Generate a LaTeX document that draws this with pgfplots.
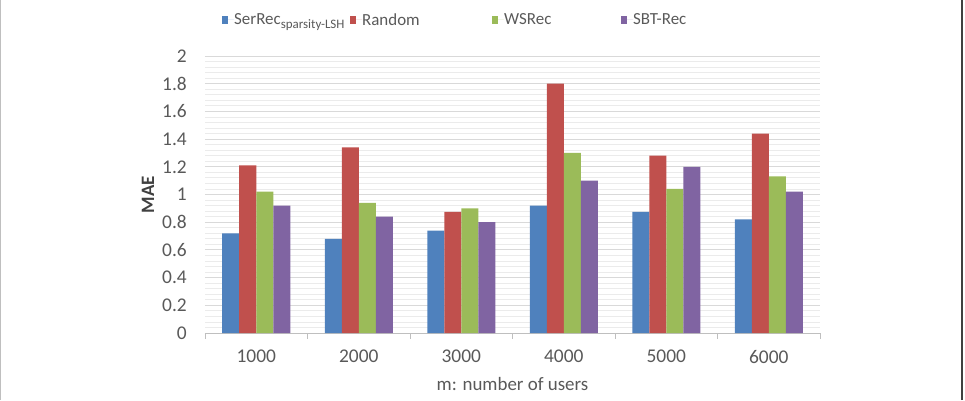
\documentclass[border=0pt]{standalone}
\usepackage{fontspec}
\setmainfont{Carlito}
\usepackage{pgfplots}
\pgfplotsset{compat=1.18}

\definecolor{cSer}{HTML}{4F81BD}
\definecolor{cRand}{HTML}{C0504D}
\definecolor{cWS}{HTML}{9BBB59}
\definecolor{cSBT}{HTML}{8064A2}
\definecolor{txt}{HTML}{595959}
\definecolor{txtdark}{HTML}{404040}
\definecolor{axisgray}{HTML}{BFBFBF}
\definecolor{gridmajor}{HTML}{D9D9D9}
\definecolor{gridminor}{HTML}{EBEBEB}

\begin{document}
\begin{tikzpicture}[x=1bp,y=1bp]
\path[use as bounding box] (-205,-67) rectangle (760,333);
% frame edges
\draw[color=axisgray, line width=1bp] (-204.5,-67) -- (-204.5,333);
\draw[color=txtdark, line width=1.6bp] (757,-67) -- (757,333);
\begin{axis}[
  at={(0,0)}, anchor=south west,
  scale only axis, width=615bp, height=277bp,
  ybar=0pt, bar width=17bp,
  xmin=-0.5, xmax=5.5, ymin=0, ymax=2,
  enlargelimits=false, clip=false,
  xtick={0,1,2,3,4,5},
  xticklabels={1000,2000,3000,4000,5000,6000},
  ytick={0,0.2,0.4,0.6,0.8,1,1.2,1.4,1.6,1.8,2},
  minor y tick num=4,
  ymajorgrids, yminorgrids,
  major grid style={color=gridmajor, line width=0.9bp},
  minor grid style={color=gridminor, line width=0.8bp},
  major tick length=0pt, minor tick length=0pt,
  axis x line*=bottom, axis y line*=left,
  x axis line style={color=axisgray, line width=0.8bp, -},
  y axis line style={draw=none},
  tick label style={font=\fontsize{19.5}{22}\selectfont, text=txt},
  /pgf/number format/assume math mode=true,
  yticklabel style={anchor=east, inner sep=0pt, xshift=-18bp},
  xticklabel style={anchor=north, inner sep=0pt, yshift=-17bp},
  xlabel={m: number of users},
  xlabel style={at={(axis description cs:0.5,-0.185)}, anchor=center,
    inner sep=0pt, font=\fontsize{19}{22}\selectfont, text=txt},
  ylabel={MAE},
  ylabel style={at={(axis description cs:-0.0927,0.5)}, anchor=center,
    inner sep=0pt, font=\fontsize{19}{22}\selectfont\bfseries, text=txtdark},
  legend columns=4,
  legend style={at={(axis description cs:0.0276,1.13)}, anchor=west,
    draw=none, fill=none, inner sep=0pt, column sep=0pt,
    nodes={inner sep=0pt, text=txt},
    font=\fontsize{17}{19}\selectfont},
  legend image code/.code={%
    \fill[#1] (0bp,-4bp) rectangle (6bp,4bp);
    \path (0bp,0bp) -- (12bp,0bp);},
]
\addplot[fill=cSer, draw=none] coordinates
  {(0,0.72) (1,0.68) (2,0.74) (3,0.92) (4,0.875) (5,0.82)};
\addplot[fill=cRand, draw=none] coordinates
  {(0,1.21) (1,1.34) (2,0.875) (3,1.80) (4,1.28) (5,1.44)};
\addplot[fill=cWS, draw=none] coordinates
  {(0,1.02) (1,0.94) (2,0.90) (3,1.30) (4,1.04) (5,1.13)};
\addplot[fill=cSBT, draw=none] coordinates
  {(0,0.92) (1,0.84) (2,0.80) (3,1.10) (4,1.20) (5,1.02)};
\legend{\makebox[116bp][l]{SerRec\raisebox{-4bp}{\fontsize{13}{14}\selectfont sparsity-LSH}},
        \makebox[130bp][l]{Random},
        \makebox[117bp][l]{WSRec},
        SBT-Rec}
% category boundary ticks below the x axis
\pgfplotsinvokeforeach{-0.5,0.5,1.5,2.5,3.5,4.5,5.5}{
  \draw[color=axisgray, line width=0.8bp] (axis cs:#1,0) -- ++(0bp,-6bp);
}
\end{axis}
\end{tikzpicture}
\end{document}
